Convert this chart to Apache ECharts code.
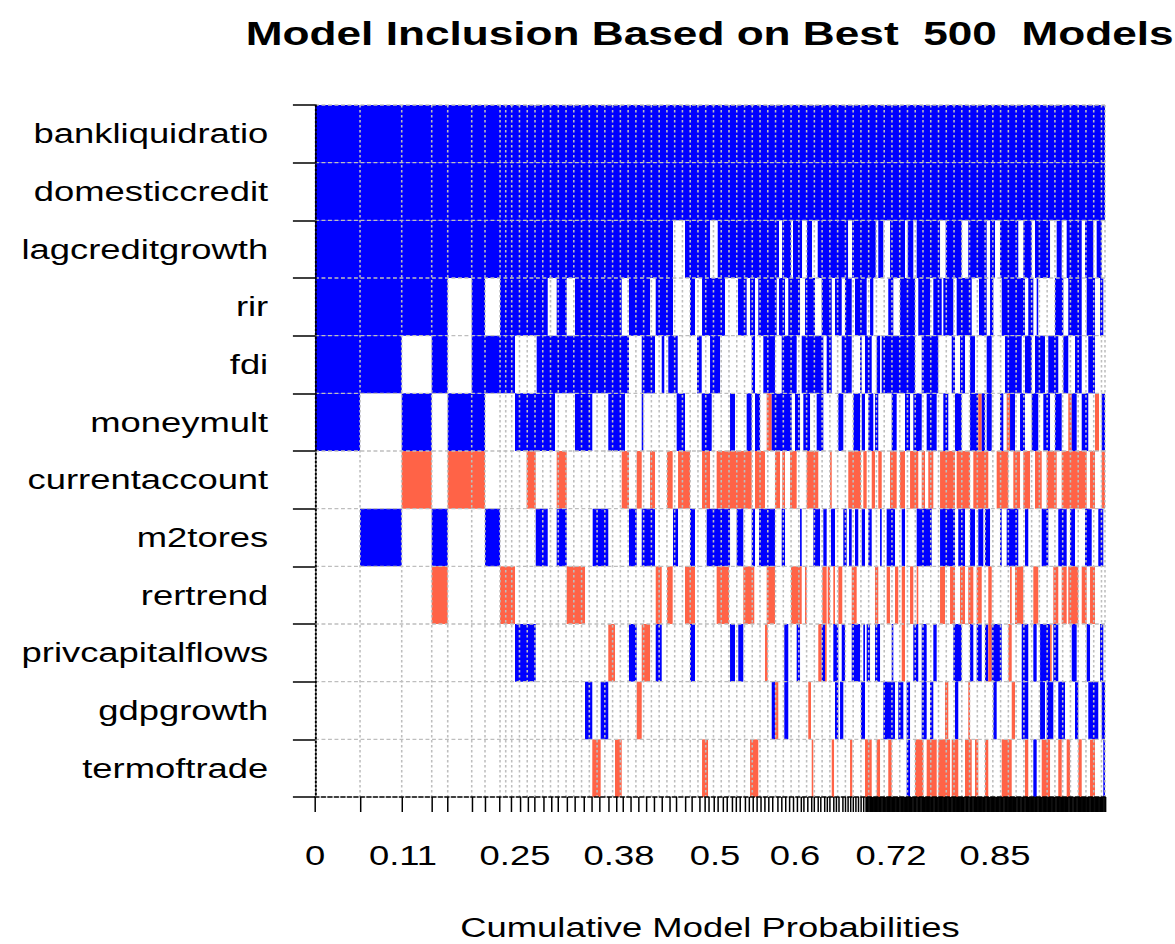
<!DOCTYPE html>
<html><head><meta charset="utf-8">
<script src="https://cdn.jsdelivr.net/npm/echarts@6/dist/echarts.min.js"></script>
<style>
html,body{margin:0;padding:0;background:#fff;overflow:hidden}
#wrap{width:1175px;height:944px;overflow:hidden;position:relative}
#c{width:904px;height:944px;transform:scaleX(1.29978);transform-origin:0 0}
</style>
</head><body><div id="wrap"><div id="c"></div></div>
<script>
// Variables, top to bottom
const variables = ['bankliquidratio','domesticcredit','lagcreditgrowth','rir','fdi','moneymult','currentaccount','m2tores','rertrend','privcapitalflows','gdpgrowth','termoftrade'];

// Inclusion segments per variable: [cumProbStart, cumProbEnd, sign]  (1 = positive, -1 = negative)
const bankliquidratio = [[0,0.9875,1]];
const domesticcredit = [[0,0.9875,1]];
const lagcreditgrowth = [[0,0.4475,1],[0.4625,0.4938,1],[0.5034,0.58,1],[0.5838,0.595,1],[0.5975,0.6088,1],[0.615,0.6213,1],[0.6284,0.6663,1],[0.6713,0.7009,1],[0.7041,0.7104,1],[0.7188,0.7375,1],[0.7409,0.7479,1],[0.7521,0.7813,1],[0.7884,0.8084,1],[0.8166,0.8396,1],[0.8438,0.85,1],[0.8563,0.8791,1],[0.8854,0.8959,1],[0.9,0.9188,1],[0.9271,0.9334,1],[0.9396,0.9584,1],[0.9625,0.9729,1],[0.9771,0.9834,1]];
const rir = [[0,0.1659,1],[0.1959,0.2125,1],[0.2313,0.2909,1],[0.3021,0.3146,1],[0.325,0.3834,1],[0.3925,0.4188,1],[0.4259,0.4475,1],[0.4688,0.475,1],[0.4838,0.5125,1],[0.5288,0.5396,1],[0.5438,0.55,1],[0.5541,0.5771,1],[0.58,0.5875,1],[0.5916,0.6063,1],[0.6125,0.625,1],[0.6334,0.6459,1],[0.65,0.6584,1],[0.6625,0.6709,1],[0.675,0.6896,1],[0.6938,0.6979,1],[0.7166,0.7229,1],[0.7313,0.75,1],[0.7541,0.7688,1],[0.7729,0.7834,1],[0.7854,0.7979,1],[0.8021,0.8209,1],[0.83,0.8396,1],[0.8438,0.8479,1],[0.8584,0.8875,1],[0.8916,0.8979,1],[0.9021,0.9041,1],[0.925,0.9354,1],[0.9416,0.9584,1],[0.9646,0.975,1],[0.9813,0.9854,1]];
const fdi = [[0,0.1084,1],[0.1459,0.1659,1],[0.1959,0.25,1],[0.2771,0.3925,1],[0.4084,0.425,1],[0.4334,0.4366,1],[0.4416,0.4534,1],[0.4775,0.4834,1],[0.4938,0.5063,1],[0.5459,0.55,1],[0.5604,0.575,1],[0.5834,0.6021,1],[0.6084,0.6354,1],[0.6396,0.6459,1],[0.6584,0.6709,1],[0.6813,0.6834,1],[0.6875,0.6959,1],[0.7021,0.7063,1],[0.7084,0.75,1],[0.7584,0.7791,1],[0.7959,0.8,1],[0.8063,0.8125,1],[0.8188,0.825,1],[0.8396,0.8459,1],[0.8625,0.8834,1],[0.8875,0.8959,1],[0.9,0.9125,1],[0.9166,0.9291,1],[0.9354,0.9416,1],[0.95,0.9584,1],[0.9666,0.975,1]];
const moneymult = [[0,0.0563,1],[0.1084,0.1459,1],[0.1659,0.2125,1],[0.25,0.3,1],[0.325,0.3466,1],[0.3666,0.3875,1],[0.4084,0.4104,1],[0.4521,0.4625,1],[0.4834,0.4959,1],[0.5188,0.525,1],[0.5396,0.5459,1],[0.55,0.5563,1],[0.5646,0.5709,-1],[0.5709,0.5959,1],[0.6,0.6063,1],[0.6104,0.6188,1],[0.6271,0.6354,1],[0.6541,0.6604,1],[0.6729,0.6813,1],[0.6834,0.6875,1],[0.6916,0.6979,1],[0.7,0.7041,1],[0.7209,0.7271,1],[0.7375,0.7438,1],[0.7479,0.7584,1],[0.7646,0.7771,1],[0.7854,0.7916,1],[0.8,0.8084,1],[0.8188,0.8291,1],[0.8291,0.8334,-1],[0.8334,0.8375,1],[0.8396,0.8459,1],[0.8563,0.8604,1],[0.8646,0.8688,-1],[0.8688,0.875,1],[0.8813,0.8875,1],[0.8959,0.9041,1],[0.9104,0.9188,1],[0.925,0.9334,1],[0.9416,0.9459,-1],[0.9459,0.9521,1],[0.9584,0.9666,1],[0.975,0.98,-1],[0.9834,0.9875,1]];
const currentaccount = [[0.1084,0.1459,-1],[0.1659,0.2125,-1],[0.2646,0.2759,-1],[0.3021,0.3146,-1],[0.3834,0.3925,-1],[0.4021,0.4084,-1],[0.4188,0.425,-1],[0.44,0.4471,-1],[0.4538,0.4688,-1],[0.4838,0.4938,-1],[0.5021,0.5459,-1],[0.55,0.5625,-1],[0.575,0.5813,-1],[0.5841,0.5875,-1],[0.5938,0.6021,-1],[0.6146,0.6291,-1],[0.6438,0.6459,-1],[0.6666,0.6825,-1],[0.6854,0.6896,-1],[0.6959,0.7,-1],[0.7041,0.7084,-1],[0.7188,0.7271,-1],[0.7313,0.7375,-1],[0.7438,0.7541,-1],[0.7584,0.7625,-1],[0.7666,0.7729,-1],[0.7813,0.8,-1],[0.8021,0.8188,-1],[0.8229,0.8416,-1],[0.8521,0.8666,-1],[0.8729,0.8813,-1],[0.8854,0.8938,-1],[0.9,0.9084,-1],[0.9146,0.9271,-1],[0.9334,0.9646,-1],[0.9688,0.975,-1],[0.9834,0.9875,-1]];
const m2tores = [[0.0563,0.1084,1],[0.1459,0.1659,1],[0.2125,0.2313,1],[0.2759,0.2909,1],[0.3021,0.3146,1],[0.3471,0.3666,1],[0.3925,0.4021,1],[0.4084,0.425,1],[0.4475,0.4538,1],[0.4688,0.475,1],[0.4896,0.5188,1],[0.5271,0.5354,1],[0.5459,0.55,1],[0.555,0.575,1],[0.5834,0.5875,1],[0.6063,0.6084,1],[0.6229,0.6313,1],[0.6354,0.6396,1],[0.645,0.65,1],[0.6604,0.6646,1],[0.6675,0.6709,1],[0.675,0.6791,1],[0.6834,0.6875,1],[0.6916,0.6959,1],[0.7063,0.7084,1],[0.7146,0.725,1],[0.7334,0.7375,1],[0.7521,0.7709,1],[0.7813,0.8,1],[0.8041,0.8125,1],[0.8188,0.825,1],[0.8291,0.8354,1],[0.8375,0.8438,1],[0.8563,0.8584,1],[0.8646,0.8791,1],[0.8875,0.8916,1],[0.9084,0.9166,1],[0.9291,0.9396,1],[0.9438,0.95,1],[0.9625,0.9709,1],[0.9791,0.9854,1]];
const rertrend = [[0.1459,0.1659,-1],[0.2313,0.25,-1],[0.3146,0.3375,-1],[0.4259,0.4334,-1],[0.44,0.4471,-1],[0.4625,0.475,-1],[0.5021,0.5175,-1],[0.5354,0.5491,-1],[0.5646,0.575,-1],[0.595,0.6084,-1],[0.6125,0.6146,-1],[0.6341,0.6396,-1],[0.6409,0.6438,-1],[0.6479,0.65,-1],[0.6541,0.6591,-1],[0.6709,0.6771,-1],[0.7,0.7041,-1],[0.7146,0.7188,-1],[0.725,0.7291,-1],[0.7334,0.7375,-1],[0.7438,0.7479,-1],[0.7521,0.7541,-1],[0.7813,0.7875,-1],[0.7938,0.8,-1],[0.8063,0.8125,-1],[0.8166,0.8229,-1],[0.8271,0.8334,-1],[0.8416,0.8459,-1],[0.8688,0.8709,-1],[0.875,0.8854,-1],[0.8979,0.9041,-1],[0.9229,0.9291,-1],[0.9334,0.9396,-1],[0.9416,0.9541,-1],[0.9584,0.9646,-1],[0.9688,0.975,-1]];
const privcapitalflows = [[0.25,0.2759,1],[0.3666,0.375,-1],[0.3925,0.4021,1],[0.4084,0.4188,-1],[0.4259,0.4334,1],[0.4688,0.475,1],[0.5188,0.525,1],[0.5291,0.5354,1],[0.5625,0.5659,-1],[0.5866,0.5916,1],[0.6021,0.6063,1],[0.6291,0.6334,-1],[0.6334,0.6375,1],[0.6375,0.6396,-1],[0.6479,0.6541,1],[0.6584,0.6625,1],[0.6709,0.6813,1],[0.6854,0.6875,1],[0.6896,0.6938,1],[0.7,0.7063,1],[0.7209,0.7229,1],[0.7334,0.7375,-1],[0.7479,0.7541,1],[0.7584,0.7646,1],[0.7729,0.7771,1],[0.7979,0.8084,1],[0.8188,0.8229,1],[0.8271,0.8334,1],[0.8375,0.8416,1],[0.8416,0.8459,-1],[0.8459,0.8584,1],[0.8666,0.8709,-1],[0.8834,0.8916,1],[0.8979,0.9021,1],[0.9063,0.9188,1],[0.9188,0.9209,-1],[0.9229,0.9291,1],[0.9459,0.9521,1],[0.9646,0.9688,1],[0.9813,0.9854,1]];
const gdpgrowth = [[0.3375,0.3466,1],[0.3571,0.3666,1],[0.4021,0.4084,-1],[0.5709,0.575,1],[0.575,0.5791,-1],[0.5866,0.5916,1],[0.6166,0.62,-1],[0.65,0.6541,1],[0.6563,0.6604,1],[0.6825,0.6875,1],[0.7104,0.725,1],[0.7291,0.7354,1],[0.7396,0.7438,1],[0.7584,0.7646,1],[0.7688,0.7729,1],[0.7875,0.7916,-1],[0.8,0.8041,1],[0.8166,0.8188,-1],[0.8479,0.8521,1],[0.8709,0.875,-1],[0.8834,0.8916,1],[0.9063,0.9125,1],[0.9146,0.9229,1],[0.9291,0.9375,1],[0.95,0.9541,1],[0.9666,0.9791,1],[0.9834,0.9875,1]];
const termoftrade = [[0.3466,0.3571,-1],[0.375,0.3834,-1],[0.4838,0.4913,-1],[0.5438,0.5541,-1],[0.6209,0.6229,-1],[0.6459,0.6488,-1],[0.6688,0.6716,-1],[0.6875,0.6959,-1],[0.7021,0.7063,-1],[0.7166,0.7209,-1],[0.7396,0.7438,1],[0.75,0.7604,-1],[0.7646,0.7771,-1],[0.7791,0.7938,-1],[0.7959,0.8041,-1],[0.8125,0.8209,-1],[0.825,0.8291,-1],[0.8375,0.8416,-1],[0.8584,0.8709,-1],[0.8875,0.8916,-1],[0.8979,0.9021,1],[0.9084,0.9188,-1],[0.9291,0.9334,-1],[0.9396,0.9438,-1],[0.9541,0.9584,-1],[0.9688,0.975,-1],[0.9854,0.9875,1]];

// Cumulative probability covered by the best 500 models
const totalProb = 0.9875;
// x-axis tick labels (cumulative model probabilities)
const tickLabels = [0, 0.11, 0.25, 0.38, 0.5, 0.6, 0.72, 0.85];
// Model boundaries (cumulative probabilities) for the larger models
const modelBounds = [0,0.0563,0.1084,0.1459,0.1659,0.1959,0.2125,0.2313,0.2459,0.2559,0.2659,0.275,0.285,0.2959,0.3041,0.3146,0.325,0.3354,0.3459,0.3563,0.3666,0.3771,0.3854,0.395,0.4041,0.4146,0.4238,0.4334,0.4429,0.4521,0.4625,0.4716,0.4813,0.4869,0.4925,0.4981,0.5038,0.5094,0.515,0.5206,0.5263,0.5319,0.5375,0.5425,0.5475,0.5525,0.5575,0.5625,0.5675,0.5725,0.5775,0.5825,0.5875,0.5925,0.5975,0.6025,0.6069,0.6113,0.6156,0.62,0.6244,0.6288,0.6325,0.6363,0.64,0.6438,0.6475,0.6513,0.655,0.6588,0.6625,0.6663,0.6694,0.6725,0.6756,0.6788,0.6819,0.685,0.6881];
// Dotted grid line positions
const gridBounds = [0.0563,0.1084,0.1459,0.1659,0.1959,0.2125,0.2313,0.2384,0.2459,0.2556,0.2653,0.275,0.2847,0.2944,0.3041,0.3138,0.3235,0.3332,0.3429,0.3526,0.3623,0.372,0.3817,0.3914,0.4011,0.4108,0.4205,0.4302,0.4399,0.4496,0.4593,0.469,0.4787,0.4884,0.4981,0.5078,0.5175,0.5272,0.5369,0.5466,0.5563,0.566,0.5757,0.5854,0.5951,0.6048,0.6145,0.6242,0.6339,0.6436,0.6533,0.663,0.6727,0.6824,0.6921,0.7018,0.7115,0.7212,0.7309,0.7406,0.7503,0.76,0.7697,0.7794,0.7891,0.7988,0.8085,0.8182,0.8279,0.8376,0.8473,0.857,0.8667,0.8764,0.8861,0.8958,0.9055,0.9152,0.9249,0.9346,0.9443,0.954,0.9637,0.9734,0.9831,0.9875];

const segmentsByVar = [bankliquidratio,domesticcredit,lagcreditgrowth,rir,fdi,moneymult,currentaccount,m2tores,rertrend,privcapitalflows,gdpgrowth,termoftrade];
const cells = [];
segmentsByVar.forEach((segs, i) => segs.forEach(s => cells.push([s[0], s[1], i, s[2]])));

// ticks: explicit model boundaries + the many tiny models at the tail (dense block)
const tickValues = modelBounds.slice();
for (let v = 0.6891; v < totalProb; v += 0.001) tickValues.push(+v.toFixed(4));
tickValues.push(totalProb);

const FONT = '"Liberation Sans", Arial, sans-serif';
const chart = echarts.init(document.getElementById('c'), null, {renderer: 'svg'});
chart.setOption({
  animation: false,
  backgroundColor: '#fff',
  grid: {left: 242.35, right: 53.86, top: 105, bottom: 147, outerBoundsMode: 'none', containLabel: false},
  graphic: [{
    type: 'text', x: 546, y: 33, z: 100,
    style: {text: 'Model Inclusion Based on Best\u00a0\u00a0500\u00a0\u00a0Models', font: 'bold 34px ' + FONT, fill: '#000', align: 'center', verticalAlign: 'middle'}
  }],
  xAxis: {
    type: 'value', min: 0, max: totalProb, z: 10,
    name: 'Cumulative Model Probabilities', nameLocation: 'middle', nameGap: 117,
    nameTextStyle: {fontSize: 28, color: '#000', fontFamily: FONT},
    axisLine: {show: true, onZero: false, lineStyle: {color: '#000', width: 1.5, type: [3, 2]}},
    axisTick: {show: true, length: 15, customValues: tickValues, lineStyle: {color: '#000', width: 1.15}},
    axisLabel: {show: true, customValues: tickLabels, formatter: v => String(v), fontSize: 28, color: '#000', fontFamily: FONT, margin: 45},
    splitLine: {show: false}
  },
  yAxis: {
    type: 'category', data: variables, inverse: true, z: 10,
    axisLine: {show: true, lineStyle: {color: '#000', width: 1.5, type: [2, 2]}},
    axisTick: {show: true, length: 17, lineStyle: {color: '#000', width: 1.5}},
    axisLabel: {fontSize: 28, color: '#000', fontFamily: FONT, margin: 36},
    splitLine: {show: false}
  },
  series: [
    {
      type: 'custom', z: 2, data: cells, encode: {x: [0, 1], y: 2},
      renderItem: (params, api) => {
        const a = api.coord([api.value(0), api.value(2)]);
        const b = api.coord([api.value(1), api.value(2)]);
        const h = api.size([0, 1])[1];
        return {type: 'rect', shape: {x: a[0], y: a[1] - h / 2, width: b[0] - a[0], height: h},
          style: {fill: api.value(3) > 0 ? '#0000FF' : '#FF6347'}};
      }
    },
    {
      type: 'custom', z: 3, data: gridBounds.map(v => [v]), encode: {x: 0},
      renderItem: (params, api) => {
        const cs = params.coordSys;
        const x = api.coord([api.value(0), 0])[0];
        return {type: 'line', shape: {x1: x, y1: cs.y, x2: x, y2: cs.y + cs.height},
          style: {stroke: '#BEBEBE', lineWidth: 1.2, lineDash: [2.5, 2.5]}};
      }
    },
    {
      type: 'custom', z: 3, data: variables.map((v, i) => [0, i]), encode: {x: 0, y: 1},
      renderItem: (params, api) => {
        const cs = params.coordSys;
        const p = api.coord([0, api.value(1)]);
        const h = api.size([0, 1])[1];
        const y = p[1] - h / 2;
        return {type: 'line', shape: {x1: cs.x, y1: y, x2: cs.x + cs.width, y2: y},
          style: {stroke: '#BEBEBE', lineWidth: 1.3, lineDash: [3, 2]}};
      }
    }
  ]
});
</script>
</body></html>
